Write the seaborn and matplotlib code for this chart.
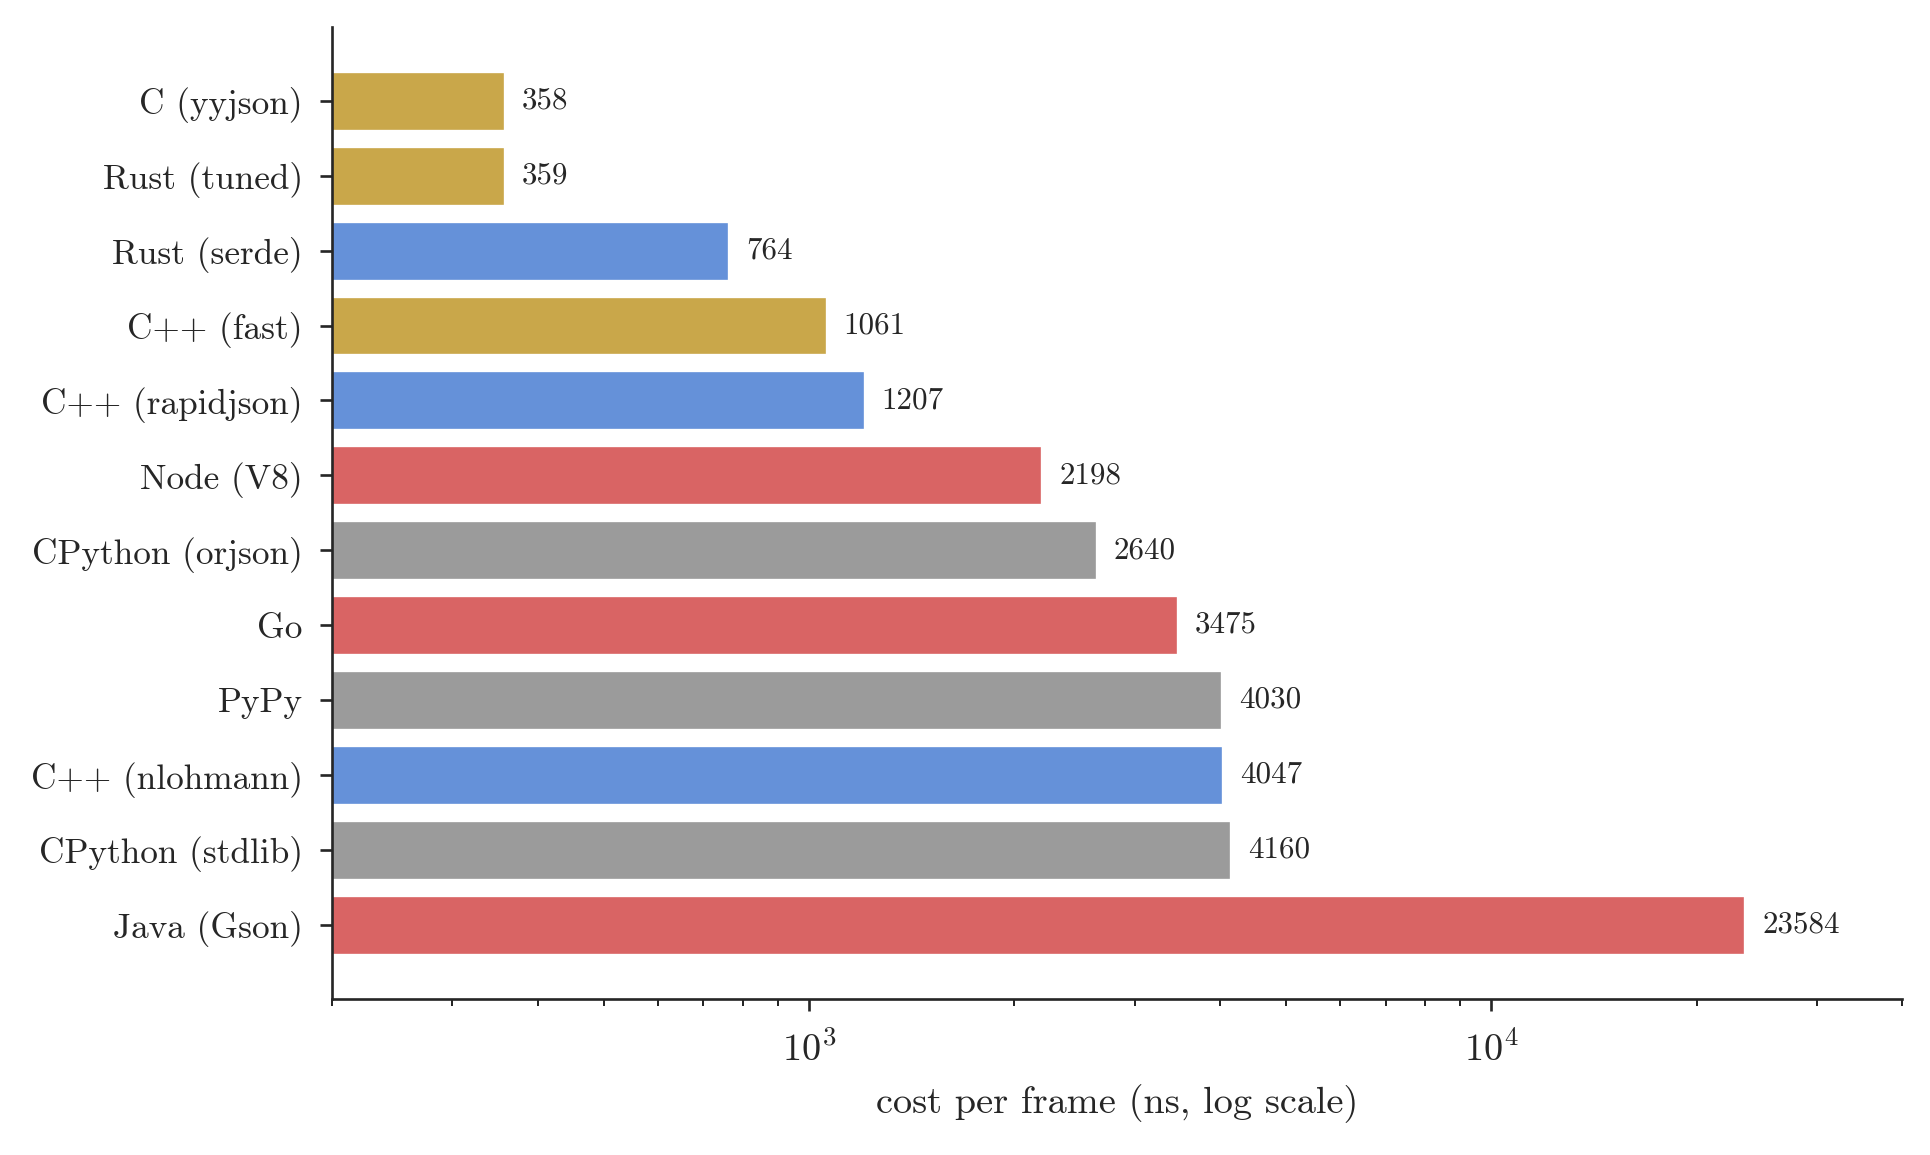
import matplotlib
matplotlib.use("Agg")
import pandas as pd
import seaborn as sns
import matplotlib.pyplot as plt

# benchmark results, fastest first
names = [
    "C (yyjson)", "Rust (tuned)", "Rust (serde)", "C++ (fast)",
    "C++ (rapidjson)", "Node (V8)", "CPython (orjson)", "Go",
    "PyPy", "C++ (nlohmann)", "CPython (stdlib)", "Java (Gson)",
]
cost_ns = [358, 359, 764, 1061, 1207, 2198, 2640, 3475, 4030, 4047, 4160, 23584]
group = [
    "tuned", "tuned", "library", "tuned",
    "library", "runtime", "python", "runtime",
    "python", "library", "python", "runtime",
]

group_colors = {
    "tuned": "#C9A74A",
    "library": "#6591D9",
    "runtime": "#D96464",
    "python": "#9B9B9B",
}

df = pd.DataFrame({"name": names, "cost": cost_ns, "group": group})

sns.set_style("ticks")
plt.rcParams["font.family"] = ["cmr10", "DejaVu Serif"]
plt.rcParams["mathtext.fontset"] = "cm"
plt.rcParams["axes.unicode_minus"] = False
plt.rcParams["axes.formatter.use_mathtext"] = True

fig, ax = plt.subplots(figsize=(1931 / 240, 1155 / 240), dpi=240)

sns.barplot(
    data=df, y="name", x="cost", hue="group", palette=group_colors,
    dodge=False, width=0.8, legend=False, ax=ax, saturation=1,
)

ax.set_xscale("log")
ax.set_xlim(200, 40000)
ax.set_ylim(11.99, -0.99)

for c in ax.containers:
    ax.bar_label(c, fmt="%d", padding=5, fontsize=9.3)

ax.set_xlabel("cost per frame (ns, log scale)", fontsize=11.5, labelpad=5)
ax.set_ylabel("")
ax.tick_params(axis="y", labelsize=10.6, pad=5.3)
ax.tick_params(axis="x", labelsize=11.5, pad=6)
sns.despine(ax=ax)

fig.subplots_adjust(left=0.172, right=0.985, top=0.977, bottom=0.135)
fig.savefig("out.png", dpi=240)
